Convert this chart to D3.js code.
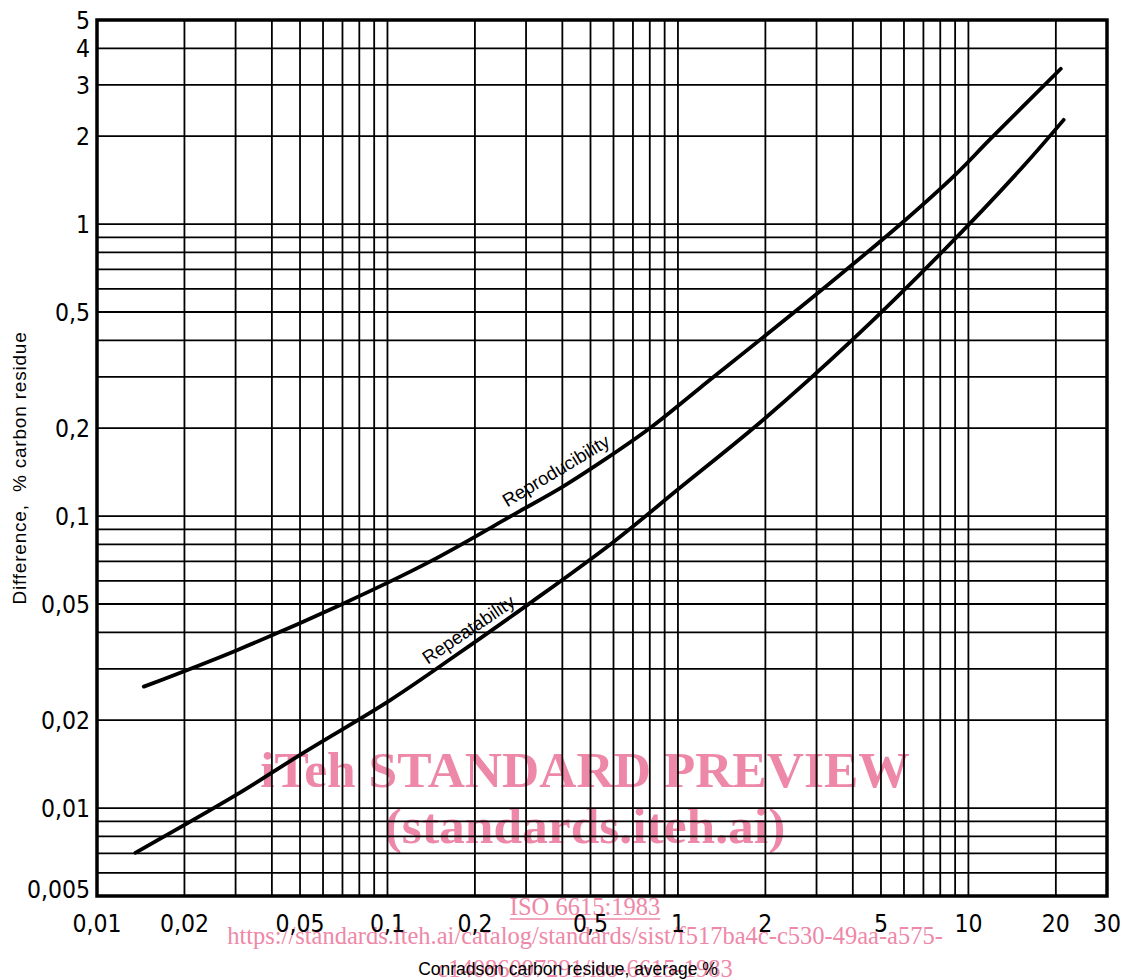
<!DOCTYPE html>
<html>
<head>
<meta charset="utf-8">
<script src="https://cdn.jsdelivr.net/npm/d3@7"></script>
<style>
  html, body { margin: 0; padding: 0; background: #fff; }
  svg { display: block; }
  .tick-label { font-family: "DejaVu Sans Condensed", "DejaVu Sans", sans-serif; font-stretch: condensed; font-size: 24.5px; fill: #000; }
  .axis-title { font-family: "Liberation Sans", Arial, sans-serif; font-size: 17.5px; fill: #000; white-space: pre; }
  .y-title { font-size: 19px; letter-spacing: 0.8px; }
  .curve-label { font-family: "Liberation Sans", Arial, sans-serif; font-size: 18.5px; fill: #000; }
  .wm-big { font-family: "Liberation Serif", "Times New Roman", serif; font-weight: bold; font-size: 51.5px; fill: #ee88a8; }
  .wm-small { font-family: "Liberation Serif", "Times New Roman", serif; font-size: 24.5px; fill: #ee88a8; }
</style>
</head>
<body>
<script>
// ---- Data ----
const reproX = [0.01449, 0.03034, 0.07063, 0.1400, 0.2786, 0.4018, 0.5395, 0.8017, 1.191, 2.924, 5.970, 9.099, 11.86, 20.80];
const reproY = [0.02606, 0.03475, 0.05023, 0.06982, 0.1026, 0.1262, 0.1524, 0.2004, 0.2748, 0.5636, 1.019, 1.489, 1.950, 3.404];

const repeatX = [0.01355, 0.03034, 0.05147, 0.1023, 0.1730, 0.3094, 0.5970, 1.016, 1.968, 4.009, 8.185, 15.45, 21.28];
const repeatY = [0.00703, 0.01114, 0.01549, 0.02344, 0.03350, 0.05035, 0.08128, 0.1250, 0.2138, 0.4036, 0.8091, 1.578, 2.275];

const xDomain = [0.01, 30];
const yDomain = [0.005, 5];
const xTickLabels = [0.01, 0.02, 0.05, 0.1, 0.2, 0.5, 1, 2, 5, 10, 20, 30];
const yTickLabels = [0.005, 0.01, 0.02, 0.05, 0.1, 0.2, 0.5, 1, 2, 3, 4, 5];

const xTitle = "Conradson carbon residue, average %";
const yTitle = "Difference,  % carbon residue";
const curveNames = ["Reproducibility", "Repeatability"];
const curveLabelAt = [[0.39, 0.137], [0.1954, 0.0392]];
const wmLines = ["iTeh STANDARD PREVIEW", "(standards.iteh.ai)", "ISO 6615:1983",
  "https://standards.iteh.ai/catalog/standards/sist/f517ba4c-c530-49aa-a575-",
  "c14086097291/iso-6615-1983"];

(function () {
// ---- Layout ----
const W = 1127, H = 980;
const pL = 97, pR = 1107, pT = 20, pB = 896;

const svg = d3.select("body").append("svg").attr("width", W).attr("height", H);
svg.append("rect").attr("width", W).attr("height", H).attr("fill", "#fff");

const x = d3.scaleLog().domain(xDomain).range([pL, pR]);
const y = d3.scaleLog().domain(yDomain).range([pB, pT]);
const fmt = v => String(+v.toPrecision(3)).replace(".", ",");

// watermark (below grid)
const cx = 585, pink = "#ee88a8";
svg.append("text").attr("class", "wm-big").attr("x", cx).attr("y", 787).attr("text-anchor", "middle").text(wmLines[0]);
svg.append("text").attr("class", "wm-big").attr("x", cx).attr("y", 843).attr("text-anchor", "middle").text(wmLines[1]);
const isoT = svg.append("text").attr("class", "wm-small").attr("x", cx).attr("y", 915).attr("text-anchor", "middle").text(wmLines[2]);
svg.append("text").attr("class", "wm-small").attr("x", cx).attr("y", 944).attr("text-anchor", "middle").text(wmLines[3]);
svg.append("text").attr("class", "wm-small").attr("x", cx).attr("y", 977).attr("text-anchor", "middle").text(wmLines[4]);
const bb = isoT.node().getBBox();
svg.append("line").attr("x1", bb.x).attr("x2", bb.x + bb.width).attr("y1", 919).attr("y2", 919)
  .attr("stroke", pink).attr("stroke-width", 1.5);

// grid
const g = svg.append("g");
g.selectAll("line.vx").data(x.ticks()).join("line").attr("class", "vx")
  .attr("x1", d => x(d)).attr("x2", d => x(d)).attr("y1", pT).attr("y2", pB)
  .attr("stroke", "#000").attr("stroke-width", 1.8);
g.selectAll("line.hy").data(y.ticks()).join("line").attr("class", "hy")
  .attr("y1", d => y(d)).attr("y2", d => y(d)).attr("x1", pL).attr("x2", pR)
  .attr("stroke", "#000").attr("stroke-width", 1.8);

// frame
svg.append("rect").attr("x", pL).attr("y", pT).attr("width", pR - pL).attr("height", pB - pT)
  .attr("fill", "none").attr("stroke", "#000").attr("stroke-width", 3.5);

// tick labels
svg.selectAll("text.xl").data(xTickLabels).join("text").attr("class", "tick-label xl")
  .attr("x", d => x(d)).attr("y", 932).attr("text-anchor", "middle").text(fmt);
svg.selectAll("text.yl").data(yTickLabels).join("text").attr("class", "tick-label yl")
  .attr("x", 90).attr("y", d => y(d) + (d === yDomain[0] ? 2 : 9)).attr("text-anchor", "end").text(fmt);

// axis titles
svg.append("text").attr("class", "axis-title").attr("x", 568).attr("y", 975).attr("text-anchor", "middle").text(xTitle);
svg.append("text").attr("class", "axis-title y-title").attr("transform", "translate(26,468) rotate(-90)")
  .attr("text-anchor", "middle").text(yTitle);

// curves
const line = d3.line().x(d => x(d[0])).y(d => y(d[1])).curve(d3.curveCatmullRom.alpha(0.5));
const reproData = reproX.map((v, i) => [v, reproY[i]]);
const repeatData = repeatX.map((v, i) => [v, repeatY[i]]);
[reproData, repeatData].forEach(dat => {
  svg.append("path").datum(dat).attr("d", line).attr("fill", "none")
    .attr("stroke", "#000").attr("stroke-width", 3.8).attr("stroke-linecap", "round");
});

// curve labels
const angles = [-31, -34];
curveNames.forEach((name, i) => {
  svg.append("text").attr("class", "curve-label").attr("text-anchor", "middle")
    .attr("transform", `translate(${x(curveLabelAt[i][0])},${y(curveLabelAt[i][1])}) rotate(${angles[i]})`)
    .text(name);
});
})();
</script>
</body>
</html>
